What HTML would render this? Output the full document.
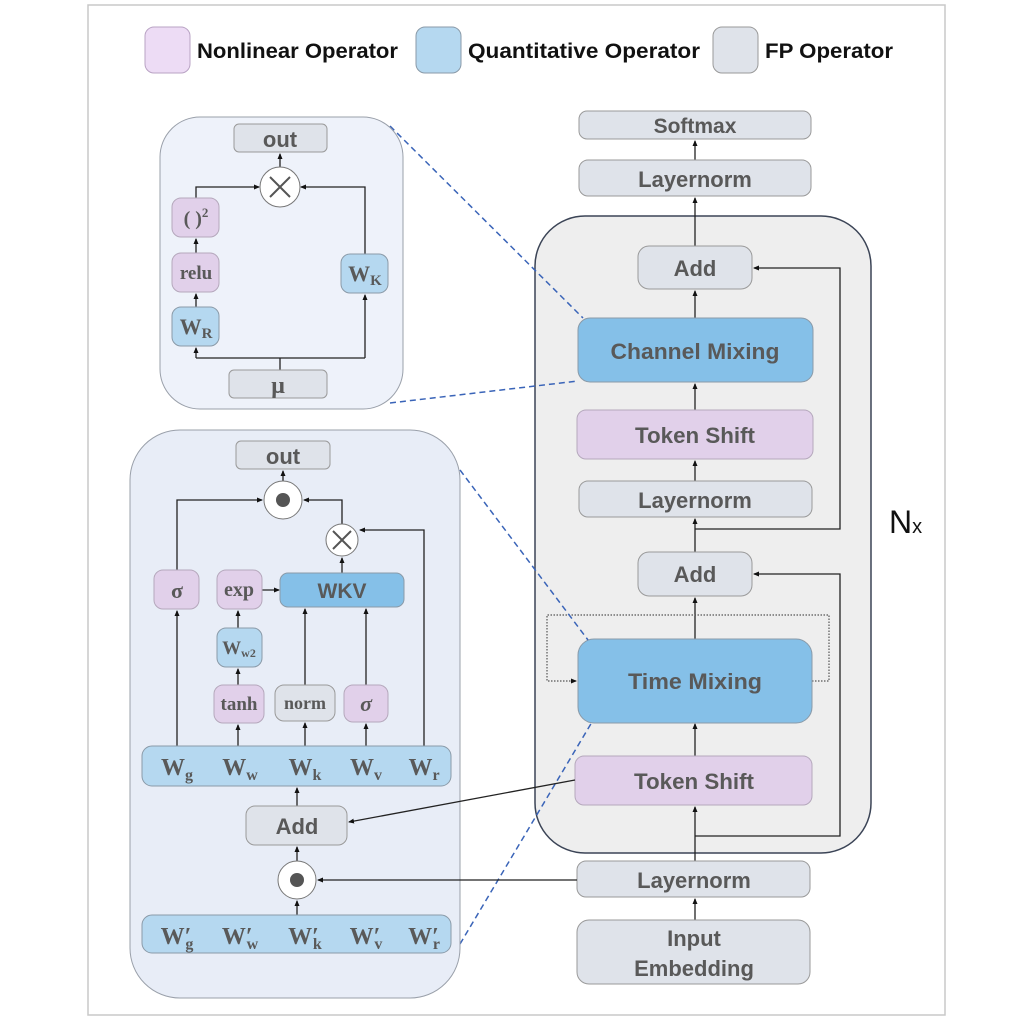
<!DOCTYPE html>
<html><head><meta charset="utf-8"><style>
html,body{margin:0;padding:0;background:#fff}
svg{display:block}
.lb{font-family:"Liberation Sans",sans-serif;font-weight:bold;fill:#595959;text-anchor:middle}
.mt{font-family:"Liberation Serif",serif;font-weight:bold;fill:#595959;text-anchor:middle}
.ln{stroke:#222;stroke-width:1.3;fill:none}
</style></head><body>
<svg width="1032" height="1021" viewBox="0 0 1032 1021" xmlns="http://www.w3.org/2000/svg">
<defs>
<marker id="a" markerWidth="6" markerHeight="6" refX="5" refY="3" orient="auto" markerUnits="userSpaceOnUse"><path d="M0,0.5 L6,3 L0,5.5z" fill="#111"/></marker>
</defs>
<rect x="88" y="5" width="857" height="1010" fill="#fff" stroke="#c8c8c8" stroke-width="1.5"/>
<!-- legend -->
<rect x="145" y="27" width="45" height="46" rx="9" fill="#eddcf5" stroke="#b9a3c4"/>
<text x="197" y="58" font-family="Liberation Sans,sans-serif" font-weight="bold" font-size="21" fill="#111" textLength="201" lengthAdjust="spacingAndGlyphs">Nonlinear Operator</text>
<rect x="416" y="27" width="45" height="46" rx="9" fill="#b5d8f0" stroke="#8a9aa8"/>
<text x="468" y="58" font-family="Liberation Sans,sans-serif" font-weight="bold" font-size="21" fill="#111" textLength="232" lengthAdjust="spacingAndGlyphs">Quantitative Operator</text>
<rect x="713" y="27" width="45" height="46" rx="9" fill="#dfe3ea" stroke="#9a9a9a"/>
<text x="765" y="58" font-family="Liberation Sans,sans-serif" font-weight="bold" font-size="21" fill="#111" textLength="128" lengthAdjust="spacingAndGlyphs">FP Operator</text>

<!-- right big box -->
<rect x="535" y="216" width="336" height="637" rx="50" fill="#eeeeee" stroke="#3b4456" stroke-width="1.5"/>
<line class="ln" x1="695" y1="920" x2="695" y2="899" marker-end="url(#a)"/>
<line class="ln" x1="695" y1="861" x2="695" y2="807" marker-end="url(#a)"/>
<line class="ln" x1="695" y1="756" x2="695" y2="724" marker-end="url(#a)"/>
<line class="ln" x1="695" y1="639" x2="695" y2="598" marker-end="url(#a)"/>
<line class="ln" x1="695" y1="552" x2="695" y2="519" marker-end="url(#a)"/>
<line class="ln" x1="695" y1="481" x2="695" y2="461" marker-end="url(#a)"/>
<line class="ln" x1="695" y1="410" x2="695" y2="384" marker-end="url(#a)"/>
<line class="ln" x1="695" y1="318" x2="695" y2="291" marker-end="url(#a)"/>
<line class="ln" x1="695" y1="246" x2="695" y2="198" marker-end="url(#a)"/>
<line class="ln" x1="695" y1="160" x2="695" y2="141" marker-end="url(#a)"/>
<polyline class="ln" points="695,836 840,836 840,574 754,574" marker-end="url(#a)"/>
<polyline class="ln" points="695,529 840,529 840,268 754,268" marker-end="url(#a)"/>
<polyline points="812,681 829,681 829,615 547,615 547,681 576,681" fill="none" stroke="#555" stroke-width="1.2" stroke-dasharray="1.5,1.5" marker-end="url(#a)"/>

<rect x="579" y="111" width="232" height="28" rx="8" fill="#dfe3ea" stroke="#9a9a9a"/>
<text class="lb" x="695" y="133" font-size="21">Softmax</text>
<rect x="579" y="160" width="232" height="36" rx="9" fill="#dfe3ea" stroke="#9a9a9a"/>
<text class="lb" x="695" y="187" font-size="22">Layernorm</text>
<rect x="638" y="246" width="114" height="43" rx="11" fill="#dfe3ea" stroke="#9a9a9a"/>
<text class="lb" x="695" y="276" font-size="22">Add</text>
<rect x="578" y="318" width="235" height="64" rx="12" fill="#85c0e8" stroke="#8a9aa8"/>
<text class="lb" x="695" y="359" font-size="22" textLength="169" lengthAdjust="spacingAndGlyphs">Channel Mixing</text>
<rect x="577" y="410" width="236" height="49" rx="9" fill="#e1d0ea" stroke="#b5a8bc"/>
<text class="lb" x="695" y="443" font-size="22" textLength="120" lengthAdjust="spacingAndGlyphs">Token Shift</text>
<rect x="579" y="481" width="233" height="36" rx="9" fill="#dfe3ea" stroke="#9a9a9a"/>
<text class="lb" x="695" y="508" font-size="22">Layernorm</text>
<rect x="638" y="552" width="114" height="44" rx="11" fill="#dfe3ea" stroke="#9a9a9a"/>
<text class="lb" x="695" y="582" font-size="22">Add</text>
<rect x="578" y="639" width="234" height="84" rx="16" fill="#85c0e8" stroke="#8a9aa8"/>
<text class="lb" x="695" y="689" font-size="22" textLength="134" lengthAdjust="spacingAndGlyphs">Time Mixing</text>
<rect x="575" y="756" width="237" height="49" rx="9" fill="#e1d0ea" stroke="#b5a8bc"/>
<text class="lb" x="694" y="789" font-size="22" textLength="120" lengthAdjust="spacingAndGlyphs">Token Shift</text>
<rect x="577" y="861" width="233" height="36" rx="9" fill="#dfe3ea" stroke="#9a9a9a"/>
<text class="lb" x="694" y="888" font-size="22">Layernorm</text>
<rect x="577" y="920" width="233" height="64" rx="12" fill="#dfe3ea" stroke="#9a9a9a"/>
<text class="lb" x="694" y="946" font-size="22">Input</text>
<text class="lb" x="694" y="976" font-size="22">Embedding</text>
<text x="889" y="533" font-family="Liberation Sans,sans-serif" font-size="32" fill="#111">N<tspan font-size="20">x</tspan></text>

<line x1="390" y1="126" x2="583" y2="318" stroke="#3a64b8" stroke-width="1.5" stroke-dasharray="6,4"/>
<line x1="390" y1="403" x2="578" y2="381" stroke="#3a64b8" stroke-width="1.5" stroke-dasharray="6,4"/>
<line x1="460" y1="470" x2="588" y2="640" stroke="#3a64b8" stroke-width="1.5" stroke-dasharray="6,4"/>
<line x1="460" y1="944" x2="592" y2="722" stroke="#3a64b8" stroke-width="1.5" stroke-dasharray="6,4"/>

<!-- top panel -->
<rect x="160" y="117" width="243" height="292" rx="40" fill="#eef2fa" stroke="#9aa0aa"/>
<polyline class="ln" points="280,370 280,358"/>
<polyline class="ln" points="196,358 365,358"/>
<line class="ln" x1="196" y1="358" x2="196" y2="348" marker-end="url(#a)"/>
<line class="ln" x1="365" y1="358" x2="365" y2="295" marker-end="url(#a)"/>
<line class="ln" x1="196" y1="307" x2="196" y2="294" marker-end="url(#a)"/>
<line class="ln" x1="196" y1="253" x2="196" y2="239" marker-end="url(#a)"/>
<polyline class="ln" points="196,198 196,187 259,187" marker-end="url(#a)"/>
<polyline class="ln" points="365,254 365,187 301,187" marker-end="url(#a)"/>
<line class="ln" x1="280" y1="167" x2="280" y2="154" marker-end="url(#a)"/>
<rect x="234" y="124" width="93" height="28" rx="5" fill="#dfe3ea" stroke="#9a9a9a"/>
<text class="lb" x="280" y="147" font-size="22">out</text>
<circle cx="280" cy="187" r="20" fill="#fff" stroke="#777"/>
<path d="M270,177 L290,197 M290,177 L270,197" stroke="#555" stroke-width="2"/>
<rect x="172" y="198" width="47" height="39" rx="9" fill="#e1d0ea" stroke="#b5a8bc"/>
<text class="mt" x="196" y="225" font-size="20">( )<tspan font-size="13" dy="-8">2</tspan></text>
<rect x="172" y="253" width="47" height="39" rx="9" fill="#e1d0ea" stroke="#b5a8bc"/>
<text class="mt" x="196" y="279" font-size="19">relu</text>
<rect x="172" y="307" width="47" height="39" rx="9" fill="#b5d8f0" stroke="#8a9aa8"/>
<text class="mt" x="196" y="334" font-size="22">W<tspan font-size="15" dy="4">R</tspan></text>
<rect x="341" y="254" width="47" height="39" rx="9" fill="#b5d8f0" stroke="#8a9aa8"/>
<text class="mt" x="365" y="281" font-size="22">W<tspan font-size="15" dy="4">K</tspan></text>
<rect x="229" y="370" width="98" height="28" rx="5" fill="#dfe3ea" stroke="#9a9a9a"/>
<text class="mt" x="278" y="393" font-size="24">μ</text>

<!-- bottom panel -->
<rect x="130" y="430" width="330" height="568" rx="50" fill="#e8edf7" stroke="#9aa0aa"/>
<line class="ln" x1="297" y1="915" x2="297" y2="901" marker-end="url(#a)"/>
<line class="ln" x1="577" y1="880" x2="318" y2="880" marker-end="url(#a)"/>
<line class="ln" x1="297" y1="861" x2="297" y2="847" marker-end="url(#a)"/>
<line class="ln" x1="575" y1="780" x2="349" y2="822" marker-end="url(#a)"/>
<line class="ln" x1="297" y1="806" x2="297" y2="788" marker-end="url(#a)"/>
<line class="ln" x1="177" y1="746" x2="177" y2="611" marker-end="url(#a)"/>
<line class="ln" x1="238" y1="746" x2="238" y2="725" marker-end="url(#a)"/>
<line class="ln" x1="238" y1="685" x2="238" y2="669" marker-end="url(#a)"/>
<line class="ln" x1="238" y1="628" x2="238" y2="611" marker-end="url(#a)"/>
<line class="ln" x1="305" y1="746" x2="305" y2="723" marker-end="url(#a)"/>
<line class="ln" x1="305" y1="685" x2="305" y2="609" marker-end="url(#a)"/>
<line class="ln" x1="366" y1="746" x2="366" y2="724" marker-end="url(#a)"/>
<line class="ln" x1="366" y1="685" x2="366" y2="609" marker-end="url(#a)"/>
<line class="ln" x1="262" y1="590" x2="279" y2="590" marker-end="url(#a)"/>
<line class="ln" x1="342" y1="573" x2="342" y2="558" marker-end="url(#a)"/>
<polyline class="ln" points="424,746 424,530 360,530" marker-end="url(#a)"/>
<polyline class="ln" points="177,570 177,500 262,500" marker-end="url(#a)"/>
<polyline class="ln" points="342,524 342,500 304,500" marker-end="url(#a)"/>
<line class="ln" x1="283" y1="481" x2="283" y2="471" marker-end="url(#a)"/>
<rect x="236" y="441" width="94" height="28" rx="5" fill="#dfe3ea" stroke="#9a9a9a"/>
<text class="lb" x="283" y="464" font-size="22">out</text>
<circle cx="283" cy="500" r="19" fill="#fff" stroke="#777"/>
<circle cx="283" cy="500" r="7" fill="#555"/>
<circle cx="342" cy="540" r="16" fill="#fff" stroke="#777"/>
<path d="M333,531 L351,549 M351,531 L333,549" stroke="#555" stroke-width="2"/>
<rect x="154" y="570" width="45" height="39" rx="9" fill="#e1d0ea" stroke="#b5a8bc"/>
<text class="mt" x="177" y="598" font-size="22">σ</text>
<rect x="217" y="570" width="45" height="39" rx="9" fill="#e1d0ea" stroke="#b5a8bc"/>
<text class="mt" x="239" y="596" font-size="20">exp</text>
<rect x="280" y="573" width="124" height="34" rx="8" fill="#85c0e8" stroke="#8a9aa8"/>
<text class="lb" x="342" y="598" font-size="21">WKV</text>
<rect x="217" y="628" width="45" height="39" rx="9" fill="#b5d8f0" stroke="#8a9aa8"/>
<text class="mt" x="239" y="654" font-size="19">W<tspan font-size="12" dy="3">w2</tspan></text>
<rect x="214" y="685" width="50" height="38" rx="9" fill="#e1d0ea" stroke="#b5a8bc"/>
<text class="mt" x="239" y="710" font-size="19">tanh</text>
<rect x="275" y="685" width="60" height="36" rx="9" fill="#dfe3ea" stroke="#9a9a9a"/>
<text class="mt" x="305" y="709" font-size="18">norm</text>
<rect x="344" y="685" width="44" height="37" rx="9" fill="#e1d0ea" stroke="#b5a8bc"/>
<text class="mt" x="366" y="711" font-size="22" font-style="italic">σ</text>
<rect x="142" y="746" width="309" height="40" rx="10" fill="#b5d8f0" stroke="#8a9aa8"/>
<g font-size="24">
<text class="mt" x="177" y="775">W<tspan font-size="16" dy="5">g</tspan></text>
<text class="mt" x="240" y="775">W<tspan font-size="16" dy="5">w</tspan></text>
<text class="mt" x="305" y="775">W<tspan font-size="16" dy="5">k</tspan></text>
<text class="mt" x="366" y="775">W<tspan font-size="16" dy="5">v</tspan></text>
<text class="mt" x="424" y="775">W<tspan font-size="16" dy="5">r</tspan></text>
</g>
<rect x="246" y="806" width="101" height="39" rx="9" fill="#dfe3ea" stroke="#9a9a9a"/>
<text class="lb" x="297" y="834" font-size="22">Add</text>
<circle cx="297" cy="880" r="19" fill="#fff" stroke="#777"/>
<circle cx="297" cy="880" r="7" fill="#555"/>
<rect x="142" y="915" width="309" height="38" rx="10" fill="#b5d8f0" stroke="#8a9aa8"/>
<g font-size="24">
<text class="mt" x="177" y="944">W′<tspan font-size="16" dy="5" dx="-6">g</tspan></text>
<text class="mt" x="240" y="944">W′<tspan font-size="16" dy="5" dx="-6">w</tspan></text>
<text class="mt" x="305" y="944">W′<tspan font-size="16" dy="5" dx="-6">k</tspan></text>
<text class="mt" x="366" y="944">W′<tspan font-size="16" dy="5" dx="-6">v</tspan></text>
<text class="mt" x="424" y="944">W′<tspan font-size="16" dy="5" dx="-6">r</tspan></text>
</g>
</svg>
</body></html>
